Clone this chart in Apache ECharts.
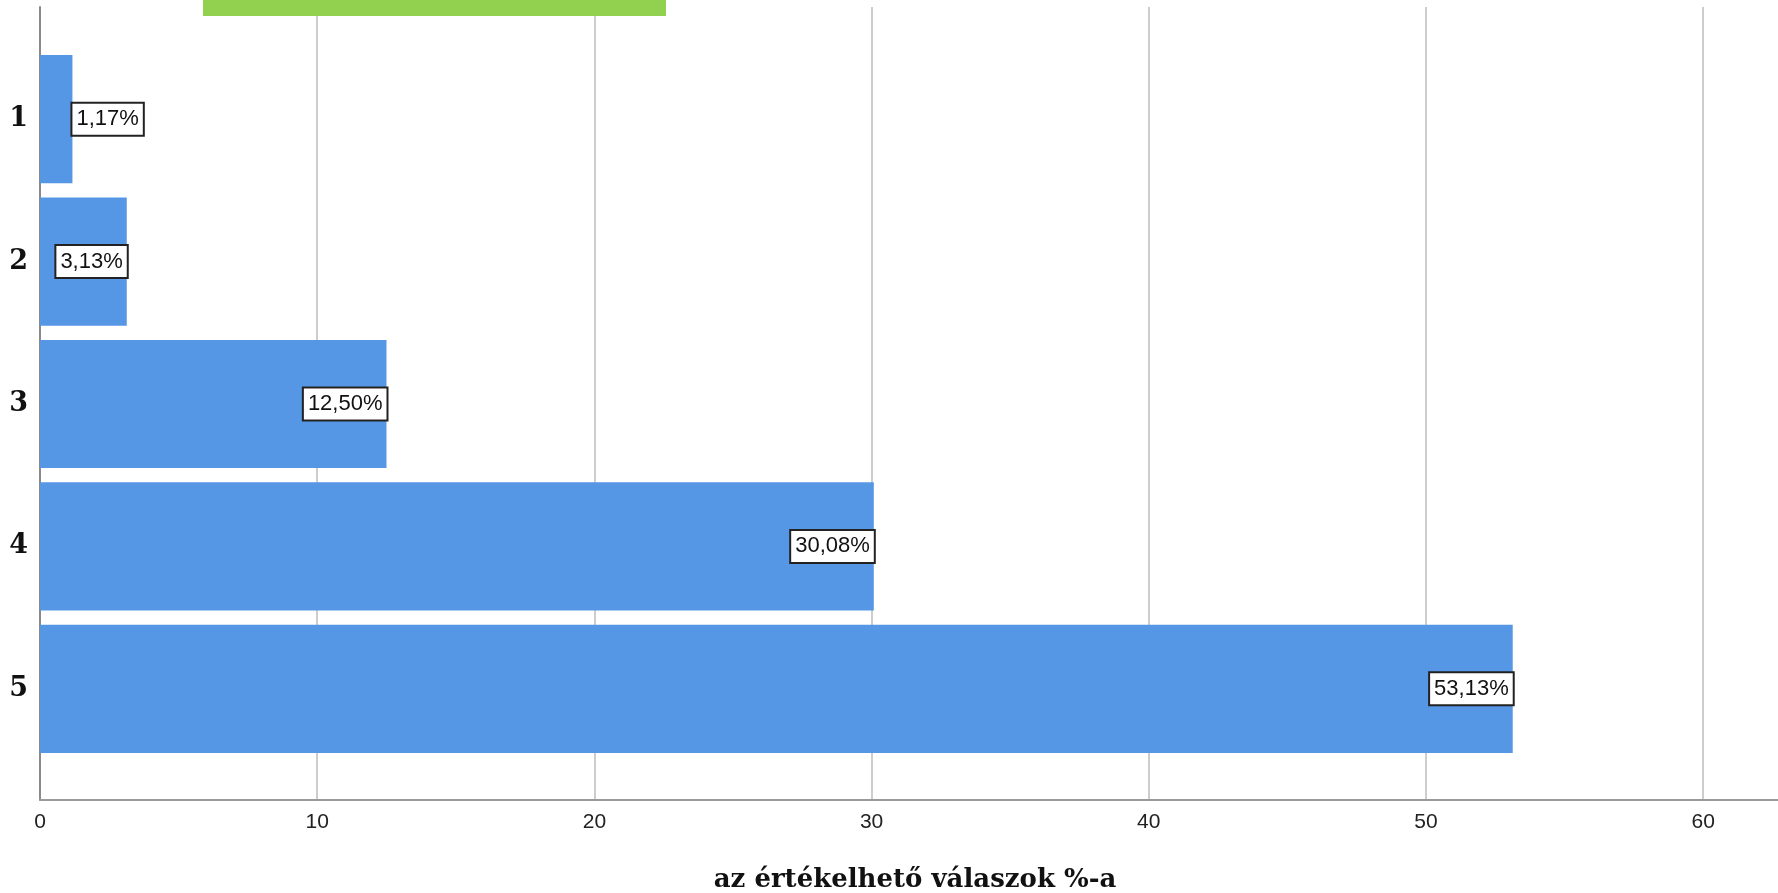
<!DOCTYPE html>
<html>
<head>
<meta charset="utf-8">
<script src="https://cdn.jsdelivr.net/npm/echarts@6/dist/echarts.min.js"></script>
<style>
  html, body { margin: 0; padding: 0; background: #ffffff; }
  #chart { width: 1778px; height: 893px; }
</style>
</head>
<body>
<div id="chart"></div>
<script>
// ---- data ----
const categories = ['1', '2', '3', '4', '5'];
const percentValues = [1.17, 3.13, 12.50, 30.08, 53.13];
const percentLabels = ['1,17%', '3,13%', '12,50%', '30,08%', '53,13%'];
const xAxisTitle = 'az értékelhető válaszok %-a';
const xMin = 0, xMax = 62.7, xStep = 10;

const chart = echarts.init(document.getElementById('chart'), null, { renderer: 'canvas' });

const labelBox = {
  show: true,
  formatter: p => percentLabels[p.dataIndex],
  fontFamily: 'Liberation Sans',
  fontSize: 22,
  color: '#111',
  backgroundColor: '#ffffff',
  borderColor: '#222',
  borderWidth: 2,
  padding: [5, 4, 4, 4],
  distance: 0
};

const seriesData = percentValues.map((v, i) => ({
  value: v,
  label: { position: v < 2 ? 'right' : 'insideRight' }
}));

const option = {
  animation: false,
  backgroundColor: '#ffffff',
  grid: [
    { left: 40, right: 0, top: 7, bottom: 93 },
    { left: 40, right: 0, top: 48, bottom: 133 }
  ],
  xAxis: [
    {
      gridIndex: 0, type: 'value', min: xMin, max: xMax, interval: xStep,
      axisLine: { show: true, lineStyle: { color: '#9a9a9a', width: 2 } },
      axisTick: { show: false },
      splitLine: { show: true, showMaxLine: false, lineStyle: { color: '#cdcdcd', width: 2 } },
      axisLabel: { fontFamily: 'Liberation Sans', fontSize: 21, color: '#222', margin: 12, showMaxLabel: false }
    },
    { gridIndex: 1, type: 'value', min: xMin, max: xMax, interval: xStep, show: false }
  ],
  yAxis: [
    {
      gridIndex: 0, type: 'value', min: 0, max: 1,
      axisLine: { show: true, lineStyle: { color: '#8a8a8a', width: 2 } },
      axisTick: { show: false }, axisLabel: { show: false }, splitLine: { show: false }
    },
    {
      gridIndex: 1, type: 'category', data: categories, inverse: true,
      axisLine: { show: false }, axisTick: { show: false }, splitLine: { show: false },
      axisLabel: { fontFamily: 'DejaVu Serif', fontWeight: 'bold', fontSize: 27, color: '#111', margin: 12 }
    }
  ],
  series: [
    {
      type: 'bar', xAxisIndex: 1, yAxisIndex: 1,
      data: seriesData,
      barCategoryGap: '10%',
      itemStyle: { color: '#5596e5' },
      label: labelBox
    }
  ],
  graphic: [
    { type: 'rect', z: 100, shape: { x: 203, y: 0, width: 463, height: 16 }, style: { fill: '#92d050' } },
    {
      type: 'text', z: 100, x: 915, y: 880,
      style: {
        text: xAxisTitle, font: 'bold 26px "DejaVu Serif"',
        textAlign: 'center', textVerticalAlign: 'middle', fill: '#111'
      }
    }
  ]
};

chart.setOption(option);
</script>
</body>
</html>
